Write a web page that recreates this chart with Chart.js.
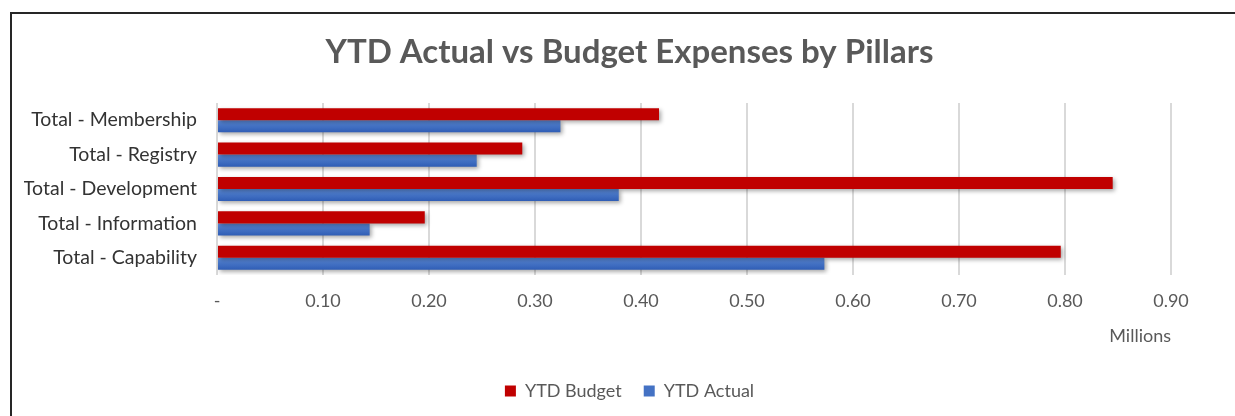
<!DOCTYPE html>
<html>
<head>
<meta charset="utf-8">
<title>YTD Actual vs Budget Expenses by Pillars</title>
<script src="https://cdn.jsdelivr.net/npm/chart.js@4.4.1/dist/chart.umd.min.js"></script>
<style>
    html, body {
        margin: 0;
        padding: 0;
        background: #ffffff;
    }
    .frame {
        position: absolute;
        left: 10px;
        top: 12px;
        width: 1225px;
        height: 404px;
        border-top: 2px solid #262626;
        border-left: 2px solid #262626;
    }
    .chart-box {
        position: absolute;
        left: 0;
        top: 0;
        width: 1235px;
        height: 416px;
    }
</style>
</head>
<body>
<div class="frame"></div>
<div class="chart-box">
    <canvas id="pillarsChart"></canvas>
</div>
<script>
// pillars, top to bottom
const pillars = [
    'Total - Membership',
    'Total - Registry',
    'Total - Development',
    'Total - Information',
    'Total - Capability'
];

// values in millions
const ytdBudget = [0.417, 0.288, 0.845, 0.196, 0.796];
const ytdActual = [0.324, 0.245, 0.379, 0.144, 0.573];

const axisMin = 0;
const axisMax = 0.9;
const axisStep = 0.1;

const FONT = 'Lato, "Open Sans", sans-serif';

// soft drop shadow under every bar
const barShadow = {
    id: 'barShadow',
    beforeDatasetsDraw(chart) {
        const ctx = chart.ctx;
        ctx.save();
        ctx.shadowColor = 'rgba(0, 0, 0, 0.35)';
        ctx.shadowBlur = 4;
        ctx.shadowOffsetX = 2;
        ctx.shadowOffsetY = 2;
    },
    afterDatasetsDraw(chart) {
        chart.ctx.restore();
    }
};

// the actual bars get a light-to-dark vertical gradient
const actualGradient = {
    id: 'actualGradient',
    beforeDatasetDraw(chart, args) {
        if (args.index !== 1) return;
        const ctx = chart.ctx;
        args.meta.data.forEach((bar) => {
            const {y, height} = bar.getProps(['y', 'height'], true);
            const g = ctx.createLinearGradient(0, y - height / 2, 0, y + height / 2);
            g.addColorStop(0, '#5d8ddc');
            g.addColorStop(0.5, '#4472c4');
            g.addColorStop(1, '#2f5db5');
            bar.options = Object.assign({}, bar.options, {backgroundColor: g});
        });
    }
};

const canvas = document.getElementById('pillarsChart');

new Chart(canvas, {
    type: 'bar',
    data: {
        labels: pillars,
        datasets: [
            {
                label: 'YTD Budget',
                data: ytdBudget,
                backgroundColor: '#c00000',
                borderWidth: 0,
                categoryPercentage: 0.7,
                barPercentage: 1.0
            },
            {
                label: 'YTD Actual',
                data: ytdActual,
                backgroundColor: '#4472c4',
                borderWidth: 0,
                categoryPercentage: 0.7,
                barPercentage: 1.0
            }
        ]
    },
    options: {
        indexAxis: 'y',
        responsive: true,
        maintainAspectRatio: false,
        animation: false,
        layout: {
            padding: {top: 0, left: 24, right: 0, bottom: 6}
        },
        plugins: {
            title: {
                display: true,
                text: 'YTD Actual vs Budget Expenses by Pillars',
                color: '#595959',
                font: {family: FONT, size: 33, weight: 'bold'},
                padding: {top: 32.2, bottom: 31.2}
            },
            legend: {
                position: 'bottom',
                labels: {
                    color: '#595959',
                    font: {family: FONT, size: 18},
                    boxWidth: 11,
                    boxHeight: 11,
                    padding: 22
                }
            },
            tooltip: {enabled: false}
        },
        scales: {
            x: {
                min: axisMin,
                max: axisMax,
                grid: {
                    color: '#d9d9d9',
                    lineWidth: 2,
                    drawTicks: false
                },
                border: {display: false},
                ticks: {
                    stepSize: axisStep,
                    padding: 15,
                    color: '#595959',
                    font: {family: FONT, size: 18},
                    callback: (value) => value === 0 ? '-' : value.toFixed(2)
                },
                title: {
                    display: true,
                    text: 'Millions',
                    align: 'end',
                    color: '#595959',
                    font: {family: FONT, size: 18},
                    padding: {top: 14.8, bottom: 13}
                },
                afterFit: (scale) => {
                    scale.height = 85;
                    // keep the room to the right of the 0.90 line
                    scale.paddingRight = 64;
                }
            },
            y: {
                grid: {display: false, drawTicks: false},
                border: {display: false},
                ticks: {
                    padding: 20,
                    color: '#333333',
                    font: {family: FONT, size: 19.5}
                },
                afterFit: (scale) => {
                    scale.width = 193;
                }
            }
        }
    },
    plugins: [barShadow, actualGradient]
});
</script>
</body>
</html>
